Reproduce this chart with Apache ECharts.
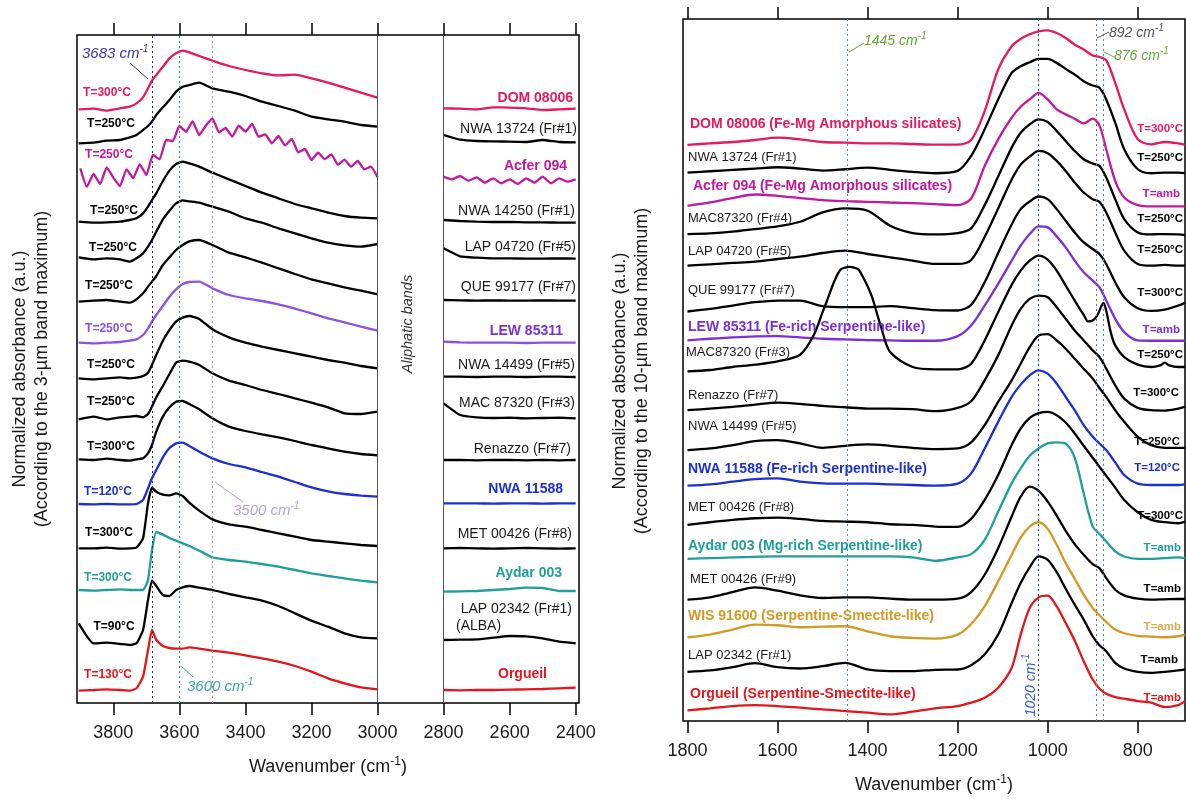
<!DOCTYPE html>
<html>
<head>
<meta charset="utf-8">
<title>IR spectra, 3-um and 10-um bands</title>
<script src="https://cdn.jsdelivr.net/npm/echarts@6/dist/echarts.min.js"></script>
<style>
  html, body { margin: 0; padding: 0; background: #fff; }
  #chart { width: 1186px; height: 799px; }
</style>
</head>
<body>
<div id="chart"></div>
<script>
// ---- wavenumber grids (cm-1); 2900 marks the removed aliphatic window ----
const wn3um = [3905, 3860, 3820, 3780, 3750, 3730, 3710, 3695, 3683, 3670, 3650, 3630, 3610, 3590, 3570, 3540, 3500,
  3450, 3400, 3350, 3300, 3250, 3200, 3150, 3100, 3050, 3000, 2900, 2800, 2750, 2700, 2650, 2600, 2550, 2500, 2450, 2400];
const wnAcfer3um = [3900, 3880, 3860, 3840, 3820, 3800, 3780, 3760, 3740, 3720, 3700, 3680, 3660, 3640, 3620, 3600,
  3580, 3560, 3540, 3520, 3500, 3480, 3460, 3440, 3420, 3400, 3380, 3360, 3340, 3320, 3300, 3280, 3260, 3240, 3220,
  3200, 3180, 3160, 3140, 3120, 3100, 3080, 3060, 3040, 3020, 3000, 2900, 2800, 2775, 2750, 2725, 2700, 2675, 2650,
  2625, 2600, 2575, 2550, 2525, 2500, 2475, 2450, 2425, 2400];
const wn10um = [1800, 1750, 1700, 1650, 1600, 1550, 1500, 1450, 1400, 1350, 1300, 1250, 1200, 1170, 1140, 1110, 1080,
  1060, 1040, 1020, 1000, 980, 960, 940, 920, 900, 885, 870, 850, 830, 800, 770, 740, 710, 695];
const wnMac3 = [1800, 1750, 1700, 1650, 1600, 1550, 1520, 1500, 1490, 1480, 1470, 1460, 1450, 1440, 1430, 1420, 1410,
  1400, 1390, 1380, 1370, 1350, 1300, 1250, 1200, 1170, 1140, 1110, 1080, 1060, 1040, 1020, 1000, 980, 960, 940, 920,
  910, 900, 890, 880, 876, 870, 860, 850, 830, 800, 770, 750, 740, 730, 710, 695];

const ticks3um = [3800, 3600, 3400, 3200, 3000, 2800, 2600, 2400];
const ticks10um = [1800, 1600, 1400, 1200, 1000, 800];
const guides3um = [3683, 3600, 3500];
const walls3um = [3000, 2800];
const guides10um = [1445, 1020, 892, 876];

// ---- 3-um panel (stacked, a.u.) ----
const dom08006_3um = [17.81, 17.83, 17.77, 17.84, 17.89, 17.99, 18.17, 18.44, 18.67, 18.84, 19.09, 19.34, 19.49, 19.57,
  19.52, 19.41, 19.27, 19.11, 18.99, 18.89, 18.83, 18.85, 18.74, 18.61, 18.46, 18.31, 18.16, null,
  17.84, 17.83, 17.81, 17.87, 17.86, 17.84, 17.79, 17.81, 17.83];
const nwa13724_3um = [16.79, 16.81, 16.87, 16.89, 16.97, 17.04, 17.19, 17.31, 17.44, 17.64, 17.87, 18.09, 18.34, 18.49,
  18.54, 18.61, 18.44, 18.34, 18.21, 18.04, 17.91, 17.77, 17.59, 17.51, 17.44, 17.34, 17.29, null,
  17.04, 16.90, 16.86, 16.85, 16.84, 16.83, 16.89, 16.83, 16.82];
const acfer094_3um = [16.04, 15.49, 15.87, 15.57, 16.07, 15.76, 15.51, 16.01, 15.75, 16.16, 15.84, 16.44, 16.31, 16.89,
  16.86, 17.31, 17.14, 17.45, 17.04, 17.32, 17.54, 17.12, 17.25, 16.99, 17.32, 17.14, 17.37, 16.99, 17.06, 16.79,
  17.01, 16.73, 16.92, 16.52, 16.62, 16.29, 16.51, 16.32, 16.46, 16.15, 16.30, 16.09, 16.26, 16.01, 16.09, 15.77, null,
  15.79, 15.71, 15.81, 15.67, 15.77, 15.61, 15.74, 15.59, 15.71, 15.57, 15.74, 15.61, 15.79, 15.59, 15.74, 15.64, 15.71];
const nwa14250_3um = [14.44, 14.41, 14.42, 14.44, 14.49, 14.54, 14.69, 14.89, 15.09, 15.29, 15.66, 15.97, 16.17, 16.24,
  16.19, 16.09, 15.91, 15.71, 15.51, 15.31, 15.14, 14.97, 14.84, 14.71, 14.61, 14.56, 14.54, null,
  14.49, 14.46, 14.44, 14.43, 14.43, 14.42, 14.42, 14.41, 14.41];
const lap04720_3um = [13.37, 13.31, 13.34, 13.31, 13.24, 13.34, 13.49, 13.69, 13.89, 14.14, 14.51, 14.77, 14.99, 15.08,
  15.05, 15.01, 14.89, 14.74, 14.54, 14.41, 14.24, 14.09, 13.94, 13.81, 13.73, 13.69, 13.77, null,
  13.64, 13.40, 13.36, 13.34, 13.34, 13.33, 13.33, 13.34, 13.33];
const que99177_3um = [12.04, 12.07, 12.09, 12.04, 12.01, 12.11, 12.29, 12.49, 12.64, 12.81, 13.14, 13.37, 13.59, 13.74,
  13.85, 13.89, 13.74, 13.51, 13.37, 13.21, 13.04, 12.87, 12.71, 12.59, 12.47, 12.37, 12.26, null,
  12.09, 12.08, 12.07, 12.08, 12.07, 12.07, 12.08, 12.07, 12.07];
const lew85311_3um = [10.81, 10.79, 10.81, 10.83, 10.87, 10.91, 11.04, 11.24, 11.44, 11.64, 11.91, 12.19, 12.41, 12.57,
  12.63, 12.64, 12.44, 12.24, 12.14, 12.06, 11.96, 11.83, 11.69, 11.54, 11.42, 11.29, 11.17, null,
  10.84, 10.82, 10.81, 10.81, 10.81, 10.80, 10.81, 10.81, 10.81];
const nwa14499_3um = [9.74, 9.71, 9.74, 9.77, 9.74, 9.76, 9.81, 9.91, 10.14, 10.44, 10.87, 11.19, 11.44, 11.56, 11.61,
  11.52, 11.21, 10.97, 10.81, 10.69, 10.59, 10.49, 10.39, 10.29, 10.21, 10.11, 10.04, null,
  9.79, 9.79, 9.78, 9.79, 9.79, 9.78, 9.79, 9.79, 9.78];
const mac87320_3um = [8.51, 8.59, 8.51, 8.57, 8.59, 8.61, 8.57, 8.67, 8.89, 9.17, 9.51, 9.87, 10.21, 10.27, 10.24,
  10.14, 9.89, 9.67, 9.54, 9.39, 9.27, 9.14, 9.01, 8.87, 8.69, 8.67, 8.74, null,
  8.99, 8.64, 8.57, 8.55, 8.56, 8.54, 8.55, 8.56, 8.54];
const renazzo_3um = [7.31, 7.29, 7.33, 7.29, 7.27, 7.31, 7.34, 7.49, 7.74, 8.14, 8.59, 8.87, 9.04, 9.06, 8.97, 8.81,
  8.54, 8.29, 8.16, 8.06, 7.97, 7.86, 7.74, 7.64, 7.54, 7.47, 7.43, null,
  7.29, 7.29, 7.28, 7.29, 7.29, 7.28, 7.29, 7.28, 7.29];
const nwa11588_3um = [5.97, 5.96, 5.97, 5.96, 5.96, 5.97, 6.09, 6.44, 6.74, 6.99, 7.37, 7.65, 7.79, 7.81, 7.71, 7.54,
  7.34, 7.17, 7.07, 6.93, 6.79, 6.63, 6.47, 6.35, 6.27, 6.22, 6.19, null,
  5.99, 5.99, 5.99, 5.98, 5.99, 5.99, 5.98, 5.99, 5.99];
const met00426_3um = [4.64, 4.64, 4.66, 4.63, 4.64, 4.66, 4.94, 5.99, 6.46, 6.34, 6.25, 6.23, 6.29, 6.21, 6.01, 5.77,
  5.51, 5.36, 5.29, 5.19, 5.09, 4.99, 4.89, 4.84, 4.79, 4.74, 4.71, null,
  4.64, 4.65, 4.64, 4.63, 4.64, 4.65, 4.64, 4.63, 4.64];
const aydar003_3um = [3.39, 3.37, 3.39, 3.41, 3.39, 3.39, 3.39, 3.69, 4.59, 5.13, 5.05, 4.95, 4.87, 4.79, 4.71, 4.57,
  4.37, 4.29, 4.24, 4.17, 4.09, 3.99, 3.89, 3.81, 3.74, 3.67, 3.62, null,
  3.34, 3.35, 3.36, 3.39, 3.42, 3.46, 3.45, 3.36, 3.36];
const lap02342_3um = [2.39, 1.79, 1.81, 1.77, 1.74, 1.79, 2.19, 3.09, 3.67, 3.51, 3.24, 3.21, 3.39, 3.47, 3.51, 3.46,
  3.39, 3.27, 3.17, 3.07, 2.91, 2.69, 2.47, 2.29, 2.09, 1.97, 1.94, null,
  1.89, 1.90, 1.91, 1.96, 2.01, 2.00, 1.94, 1.84, 1.79];
const orgueil_3um = [0.37, 0.39, 0.41, 0.39, 0.37, 0.44, 0.79, 1.59, 2.19, 1.89, 1.71, 1.65, 1.63, 1.63, 1.67, 1.63,
  1.57, 1.51, 1.43, 1.34, 1.24, 1.11, 0.94, 0.74, 0.59, 0.47, 0.41, null,
  0.39, 0.38, 0.39, 0.39, 0.40, 0.41, 0.42, 0.44, 0.46];

// ---- 10-um panel (stacked, a.u.) ----
const dom08006_10um = [17.33, 17.38, 17.42, 17.48, 17.55, 17.50, 17.42, 17.40, 17.38, 17.38, 17.36, 17.34, 17.34, 17.48,
  18.35, 19.60, 20.30, 20.52, 20.66, 20.75, 20.78, 20.70, 20.55, 20.35, 20.20, 20.02, 19.98, 19.88, 19.20, 18.40,
  17.50, 17.35, 17.42, 17.38, 17.34];
const nwa13724_10um = [16.50, 16.54, 16.58, 16.62, 16.66, 16.62, 16.56, 16.60, 16.65, 16.58, 16.52, 16.48, 16.55, 17.00,
  17.80, 18.70, 19.50, 19.70, 19.82, 19.92, 19.92, 19.80, 19.62, 19.45, 19.25, 19.12, 19.05, 18.70, 18.00, 17.20,
  16.60, 16.48, 16.50, 16.50, 16.48];
const acfer094_10um = [15.50, 15.60, 15.73, 15.84, 15.80, 15.73, 15.67, 15.64, 15.62, 15.60, 15.58, 15.55, 15.52, 15.72,
  16.70, 17.50, 18.15, 18.48, 18.70, 18.90, 18.70, 18.40, 18.25, 18.12, 17.98, 18.12, 17.92, 17.20, 16.25, 15.75,
  15.52, 15.48, 15.48, 15.48, 15.48];
const mac87320fr4_10um = [14.65, 14.67, 14.72, 14.80, 14.88, 15.02, 15.30, 15.42, 15.35, 14.90, 14.68, 14.64, 14.68,
  14.82, 15.52, 16.38, 17.25, 17.70, 17.95, 18.10, 18.02, 17.75, 17.45, 17.15, 16.90, 16.77, 16.70, 16.35, 15.70,
  15.10, 14.70, 14.64, 14.65, 14.64, 14.62];
const lap04720_10um = [13.70, 13.74, 13.78, 13.82, 13.90, 13.97, 14.08, 14.15, 14.05, 13.95, 13.85, 13.75, 13.75, 13.87,
  14.56, 15.42, 16.29, 16.74, 16.98, 17.15, 17.08, 16.85, 16.55, 16.20, 15.90, 15.70, 15.62, 15.30, 14.70, 14.15,
  13.75, 13.70, 13.72, 13.70, 13.70];
const que99177_10um = [12.32, 12.40, 12.50, 12.60, 12.65, 12.65, 12.48, 12.45, 12.45, 12.48, 12.42, 12.36, 12.35, 12.52,
  13.20, 14.08, 14.94, 15.40, 15.63, 15.78, 15.70, 15.40, 15.05, 14.70, 14.40, 14.20, 14.05, 13.75, 13.20, 12.75,
  12.42, 12.34, 12.38, 12.50, 12.58];
const lew85311_10um = [11.45, 11.50, 11.54, 11.57, 11.58, 11.54, 11.50, 11.48, 11.46, 11.45, 11.44, 11.44, 11.58, 11.90,
  12.50, 13.15, 13.85, 14.30, 14.65, 14.88, 14.85, 14.58, 14.25, 13.85, 13.50, 13.25, 13.05, 12.65, 12.10, 11.70,
  11.45, 11.44, 11.44, 11.44, 11.44];
const mac87320fr3_10um = [10.52, 10.56, 10.65, 10.72, 10.82, 11.02, 11.60, 12.30, 12.65, 13.02, 13.35, 13.58, 13.64,
  13.66, 13.64, 13.58, 13.35, 13.08, 12.75, 12.30, 11.85, 11.10, 10.65, 10.58, 10.58, 10.75, 11.45, 12.30, 13.12,
  13.55, 13.85, 14.00, 13.88, 13.55, 13.10, 12.65, 12.22, 12.02, 12.05, 12.20, 12.50, 12.58, 12.35, 11.70, 11.30,
  10.95, 10.72, 10.65, 10.70, 10.78, 10.70, 10.65, 10.65];
const renazzo_10um = [9.35, 9.40, 9.45, 9.52, 9.58, 9.54, 9.48, 9.44, 9.40, 9.40, 9.38, 9.32, 9.42, 9.62, 10.25, 11.00,
  11.90, 12.40, 12.70, 12.80, 12.75, 12.45, 12.10, 11.75, 11.45, 11.15, 10.95, 10.60, 10.10, 9.70, 9.42, 9.35, 9.34,
  9.40, 9.45];
const nwa14499_10um = [8.15, 8.20, 8.30, 8.42, 8.45, 8.35, 8.22, 8.28, 8.32, 8.28, 8.22, 8.18, 8.20, 8.38, 8.90, 9.60,
  10.25, 10.75, 11.25, 11.60, 11.64, 11.45, 11.20, 10.90, 10.60, 10.30, 10.02, 9.75, 9.35, 9.00, 8.55, 8.30, 8.22,
  8.22, 8.22];
const nwa11588_10um = [7.08, 7.12, 7.20, 7.28, 7.30, 7.20, 7.15, 7.14, 7.14, 7.12, 7.10, 7.08, 7.14, 7.45, 8.20, 9.00,
  9.75, 10.12, 10.40, 10.55, 10.45, 10.15, 9.75, 9.35, 8.90, 8.55, 8.35, 8.15, 7.78, 7.40, 7.14, 7.10, 7.10, 7.10, 7.12];
const met00426fr8_10um = [5.90, 5.98, 6.05, 6.10, 6.12, 6.08, 6.02, 6.00, 5.98, 5.92, 5.90, 5.85, 5.84, 6.08, 6.65, 7.40,
  8.30, 8.80, 9.12, 9.26, 9.30, 9.20, 8.98, 8.65, 8.28, 7.92, 7.65, 7.38, 7.02, 6.65, 6.28, 6.05, 5.98, 5.95, 6.00];
const aydar003_10um = [4.88, 4.90, 4.92, 4.94, 4.95, 4.95, 4.95, 4.95, 4.95, 4.95, 4.92, 4.82, 4.92, 5.02, 5.45, 6.30,
  7.15, 7.60, 7.98, 8.20, 8.35, 8.38, 8.34, 7.92, 6.85, 5.85, 5.63, 5.40, 5.10, 4.95, 4.88, 4.88, 4.90, 4.92, 4.90];
const met00426fr9_10um = [3.65, 3.72, 3.88, 4.02, 3.92, 3.78, 3.70, 3.72, 3.72, 3.68, 3.65, 3.65, 3.68, 3.88, 4.40, 5.20,
  6.15, 6.75, 7.05, 6.92, 6.60, 6.18, 5.72, 5.32, 5.00, 4.72, 4.60, 4.30, 3.95, 3.78, 3.68, 3.65, 3.66, 3.67, 3.67];
const wis91600_10um = [2.52, 2.60, 2.75, 2.90, 2.88, 2.82, 2.84, 2.85, 2.70, 2.55, 2.50, 2.48, 2.60, 2.92, 3.45, 4.20,
  5.00, 5.52, 5.85, 5.98, 5.78, 5.30, 4.75, 4.28, 3.80, 3.40, 3.18, 2.98, 2.75, 2.64, 2.56, 2.54, 2.52, 2.55, 2.60];
const lap02342_10um = [1.48, 1.52, 1.62, 1.74, 1.62, 1.58, 1.65, 1.75, 1.55, 1.50, 1.50, 1.54, 1.55, 1.68, 2.00, 2.60,
  3.55, 4.15, 4.62, 4.95, 4.85, 4.48, 3.98, 3.50, 3.05, 2.55, 2.28, 2.10, 1.75, 1.58, 1.48, 1.45, 1.48, 1.52, 1.55];
const orgueil_10um = [0.32, 0.38, 0.45, 0.48, 0.45, 0.40, 0.35, 0.30, 0.25, 0.20, 0.28, 0.38, 0.45, 0.55, 0.70, 1.00,
  1.60, 2.60, 3.40, 3.72, 3.77, 3.45, 2.95, 2.42, 1.80, 1.25, 0.98, 0.82, 0.72, 0.67, 0.60, 0.55, 0.42, 0.48, 0.60];

// ---- styling ----
const FONT = "'Liberation Sans', Arial, Helvetica, sans-serif";
const C = {
  black: '#000000', pink: '#e8185e', magenta: '#c2189c', purpleL: '#8c52e0', purple: '#7a30d8',
  blue: '#1d2fd2', teal: '#1f9f9a', gold: '#cf9b22', goldT: '#d6ad4c', red: '#e4161c'
};

const spectra3um = [
  [dom08006_3um, C.pink], [nwa13724_3um, C.black], [acfer094_3um, C.magenta, wnAcfer3um],
  [nwa14250_3um, C.black], [lap04720_3um, C.black], [que99177_3um, C.black], [lew85311_3um, C.purpleL],
  [nwa14499_3um, C.black], [mac87320_3um, C.black], [renazzo_3um, C.black], [nwa11588_3um, C.blue],
  [met00426_3um, C.black], [aydar003_3um, C.teal], [lap02342_3um, C.black], [orgueil_3um, C.red]
];
const spectra10um = [
  [dom08006_10um, C.pink], [nwa13724_10um, C.black], [acfer094_10um, C.magenta], [mac87320fr4_10um, C.black],
  [lap04720_10um, C.black], [que99177_10um, C.black], [lew85311_10um, C.purple], [mac87320fr3_10um, C.black, wnMac3],
  [renazzo_10um, C.black], [nwa14499_10um, C.black], [nwa11588_10um, C.blue], [met00426fr8_10um, C.black],
  [aydar003_10um, C.teal], [met00426fr9_10um, C.black], [wis91600_10um, C.gold], [lap02342_10um, C.black],
  [orgueil_10um, C.red]
];

function toPairs(wn, vals) {
  return wn.map(function (w, i) { return [w, vals[i]]; });
}

function guideLine(v, color, type) {
  return { xAxis: v, lineStyle: { color: color, type: type || [2, 3], width: 1 } };
}

function buildSeries(list, defaultWn, gridIdx, guides) {
  return list.map(function (s, i) {
    const item = {
      type: 'line', xAxisIndex: gridIdx * 2, yAxisIndex: gridIdx,
      data: toPairs(s[2] || defaultWn, s[0]),
      showSymbol: false, smooth: gridIdx === 0 ? 0.15 : 0.3, connectNulls: false,
      lineStyle: { color: s[1], width: 2.3 }, silent: true, z: 3
    };
    if (i === 0) {
      item.markLine = { symbol: ['none', 'none'], silent: true, label: { show: false }, data: guides };
    }
    return item;
  });
}

const supRich = function (color, size) {
  return { s: { fontSize: size, fontStyle: 'italic', fontFamily: FONT, fill: color, verticalAlign: 'bottom', padding: [0, 0, 9, 0] } };
};

function txt(x, y, text, color, size, opt) {
  opt = opt || {};
  const style = {
    text: text, fill: color, fontSize: size, fontFamily: FONT,
    fontWeight: opt.bold ? 'bold' : 'normal', fontStyle: opt.italic ? 'italic' : 'normal',
    align: opt.align || 'left', verticalAlign: 'middle'
  };
  if (opt.rich) style.rich = opt.rich;
  if (opt.lineHeight) style.lineHeight = opt.lineHeight;
  return { type: 'text', x: x, y: y, rotation: opt.rot || 0, silent: true, z: 100, style: style };
}

function leader(x1, y1, x2, y2, color) {
  return { type: 'line', silent: true, z: 100, shape: { x1: x1, y1: y1, x2: x2, y2: y2 }, style: { stroke: color, lineWidth: 1 } };
}

function xAxisDef(gridIdx, min, max, ticks, position) {
  const bottom = position === 'bottom';
  return {
    type: 'value', gridIndex: gridIdx, min: min, max: max, inverse: true, position: position,
    axisLine: { show: false, onZero: false },
    axisTick: { show: true, inside: false, length: 12, customValues: ticks, lineStyle: { color: '#000', width: 1.5 } },
    axisLabel: {
      show: bottom, customValues: ticks, fontSize: 18, color: '#1a1a1a', margin: 21, fontFamily: FONT,
      formatter: function (v) { return String(v); }
    },
    splitLine: { show: false },
    name: bottom ? 'Wavenumber (cm{s|-1})' : '',
    nameLocation: 'middle', nameGap: 53,
    nameTextStyle: {
      fontSize: 18, color: '#1a1a1a', fontFamily: FONT,
      rich: { s: { fontSize: 12, fontFamily: FONT, color: '#1a1a1a', verticalAlign: 'bottom', padding: [0, 0, 10, 0] } }
    }
  };
}

// ---- text labels ----
const T = 12;
const TR = 11.5;
const N = 14;
const graphics = [
  // y-axis titles
  txt(31, 369, 'Normalized absorbance (a.u.)\n(According to the 3-\u00b5m band maximum)', '#1a1a1a', 18,
    { align: 'center', rot: Math.PI / 2, lineHeight: 22 }),
  txt(631, 371, 'Normalized absorbance (a.u.)\n(According to the 10-\u00b5m band maximum)', '#1a1a1a', 18,
    { align: 'center', rot: Math.PI / 2, lineHeight: 22 }),

  // left panel: temperatures
  txt(107, 93, 'T=300\u00b0C', C.pink, T, { bold: true, align: 'center' }),
  txt(111, 124, 'T=250\u00b0C', C.black, T, { bold: true, align: 'center' }),
  txt(109, 155, 'T=250\u00b0C', C.magenta, T, { bold: true, align: 'center' }),
  txt(114, 211, 'T=250\u00b0C', C.black, T, { bold: true, align: 'center' }),
  txt(113, 248, 'T=250\u00b0C', C.black, T, { bold: true, align: 'center' }),
  txt(109, 286, 'T=250\u00b0C', C.black, T, { bold: true, align: 'center' }),
  txt(109, 329, 'T=250\u00b0C', C.purpleL, T, { bold: true, align: 'center' }),
  txt(111, 365, 'T=250\u00b0C', C.black, T, { bold: true, align: 'center' }),
  txt(111, 402, 'T=250\u00b0C', C.black, T, { bold: true, align: 'center' }),
  txt(111, 447, 'T=300\u00b0C', C.black, T, { bold: true, align: 'center' }),
  txt(108, 492, 'T=120\u00b0C', C.blue, T, { bold: true, align: 'center' }),
  txt(109, 533, 'T=300\u00b0C', C.black, T, { bold: true, align: 'center' }),
  txt(108, 578, 'T=300\u00b0C', C.teal, T, { bold: true, align: 'center' }),
  txt(114, 627, 'T=90\u00b0C', C.black, T, { bold: true, align: 'center' }),
  txt(108, 675, 'T=130\u00b0C', C.red, T, { bold: true, align: 'center' }),

  // left panel: sample names
  txt(573, 98, 'DOM 08006', C.pink, N, { bold: true, align: 'right' }),
  txt(577, 129, 'NWA 13724 (Fr#1)', '#1a1a1a', N, { align: 'right' }),
  txt(567, 166, 'Acfer 094', C.magenta, N, { bold: true, align: 'right' }),
  txt(575, 211, 'NWA 14250 (Fr#1)', '#1a1a1a', N, { align: 'right' }),
  txt(576, 247, 'LAP 04720 (Fr#5)', '#1a1a1a', N, { align: 'right' }),
  txt(576, 287, 'QUE 99177 (Fr#7)', '#1a1a1a', N, { align: 'right' }),
  txt(563, 331, 'LEW 85311', C.purple, N, { bold: true, align: 'right' }),
  txt(575, 365, 'NWA 14499 (Fr#5)', '#1a1a1a', N, { align: 'right' }),
  txt(575, 403, 'MAC 87320 (Fr#3)', '#1a1a1a', N, { align: 'right' }),
  txt(571, 449, 'Renazzo (Fr#7)', '#1a1a1a', N, { align: 'right' }),
  txt(563, 489, 'NWA 11588', C.blue, N, { bold: true, align: 'right' }),
  txt(572, 534, 'MET 00426 (Fr#8)', '#1a1a1a', N, { align: 'right' }),
  txt(562, 573, 'Aydar 003', C.teal, N, { bold: true, align: 'right' }),
  txt(572, 609, 'LAP 02342 (Fr#1)', '#1a1a1a', N, { align: 'right' }),
  txt(456, 626, '(ALBA)', '#1a1a1a', N),
  txt(547, 674, 'Orgueil', C.red, N, { bold: true, align: 'right' }),

  // left panel: band annotations
  txt(82, 54, '3683 cm{s|-1}', '#3535a8', 15, { italic: true, rich: supRich('#3535a8', 10) }),
  leader(130, 63, 148, 79, '#35356e'),
  txt(233, 511, '3500 cm{s|-1}', '#b8a2d8', 15, { italic: true, rich: supRich('#b8a2d8', 10) }),
  leader(215, 482, 243, 502, '#b8a2d8'),
  txt(187, 687, '3600 cm{s|-1}', '#3aa5a5', 15, { italic: true, rich: supRich('#3aa5a5', 10) }),
  leader(181, 666, 193, 677, '#3aa5a5'),
  txt(408, 324, 'Aliphatic bands', '#333333', 14.5, { italic: true, align: 'center', rot: Math.PI / 2 }),

  // right panel: sample names
  txt(690, 124, 'DOM 08006 (Fe-Mg Amorphous silicates)', C.pink, N, { bold: true }),
  txt(688, 157, 'NWA 13724 (Fr#1)', '#1a1a1a', 13),
  txt(693, 186, 'Acfer 094 (Fe-Mg Amorphous silicates)', C.magenta, N, { bold: true }),
  txt(688, 218, 'MAC87320 (Fr#4)', '#1a1a1a', 13),
  txt(688, 251, 'LAP 04720 (Fr#5)', '#1a1a1a', 13),
  txt(688, 290, 'QUE 99177 (Fr#7)', '#1a1a1a', 13),
  txt(688, 327, 'LEW 85311 (Fe-rich Serpentine-like)', C.purple, N, { bold: true }),
  txt(686, 352, 'MAC87320 (Fr#3)', '#1a1a1a', 13),
  txt(688, 395, 'Renazzo (Fr#7)', '#1a1a1a', 13),
  txt(688, 426, 'NWA 14499 (Fr#5)', '#1a1a1a', 13),
  txt(688, 469, 'NWA 11588 (Fe-rich Serpentine-like)', C.blue, N, { bold: true }),
  txt(688, 507, 'MET 00426 (Fr#8)', '#1a1a1a', 13),
  txt(688, 546, 'Aydar 003 (Mg-rich Serpentine-like)', C.teal, N, { bold: true }),
  txt(690, 579, 'MET 00426 (Fr#9)', '#1a1a1a', 13),
  txt(688, 616, 'WIS 91600 (Serpentine-Smectite-like)', C.gold, N, { bold: true }),
  txt(688, 655, 'LAP 02342 (Fr#1)', '#1a1a1a', 13),
  txt(690, 694, 'Orgueil (Serpentine-Smectite-like)', C.red, N, { bold: true }),

  // right panel: temperatures
  txt(1183, 129, 'T=300\u00b0C', C.pink, TR, { bold: true, align: 'right' }),
  txt(1183, 158, 'T=250\u00b0C', C.black, TR, { bold: true, align: 'right' }),
  txt(1180, 194, 'T=amb', C.magenta, TR, { bold: true, align: 'right' }),
  txt(1183, 219, 'T=250\u00b0C', C.black, TR, { bold: true, align: 'right' }),
  txt(1183, 250, 'T=250\u00b0C', C.black, TR, { bold: true, align: 'right' }),
  txt(1183, 293, 'T=300\u00b0C', C.black, TR, { bold: true, align: 'right' }),
  txt(1180, 330, 'T=amb', C.purple, TR, { bold: true, align: 'right' }),
  txt(1183, 355, 'T=250\u00b0C', C.black, TR, { bold: true, align: 'right' }),
  txt(1179, 393, 'T=300\u00b0C', C.black, TR, { bold: true, align: 'right' }),
  txt(1180, 442, 'T=250\u00b0C', C.black, TR, { bold: true, align: 'right' }),
  txt(1180, 468, 'T=120\u00b0C', C.blue, TR, { bold: true, align: 'right' }),
  txt(1183, 516, 'T=300\u00b0C', C.black, TR, { bold: true, align: 'right' }),
  txt(1181, 548, 'T=amb', C.teal, TR, { bold: true, align: 'right' }),
  txt(1181, 589, 'T=amb', C.black, TR, { bold: true, align: 'right' }),
  txt(1181, 627, 'T=amb', C.goldT, TR, { bold: true, align: 'right' }),
  txt(1178, 660, 'T=amb', C.black, TR, { bold: true, align: 'right' }),
  txt(1181, 698, 'T=amb', C.red, TR, { bold: true, align: 'right' }),

  // right panel: band annotations
  txt(864, 41, '1445 cm{s|-1}', '#6aa536', 14, { italic: true, rich: supRich('#6aa536', 10) }),
  leader(849, 52, 864, 43, '#6aa536'),
  txt(1109, 33, '892 cm{s|-1}', '#555555', 14, { italic: true, rich: supRich('#555555', 10) }),
  leader(1097, 38, 1109, 32, '#555555'),
  txt(1114, 56, '876 cm{s|-1}', '#6aa536', 14, { italic: true, rich: supRich('#6aa536', 10) }),
  leader(1104, 52, 1114, 57, '#6aa536'),
  txt(1031, 685, '1020 cm{s|-1}', '#3b5bc8', 14, { italic: true, align: 'center', rot: Math.PI / 2, rich: supRich('#3b5bc8', 10) })
];

const series = []
  .concat(buildSeries(spectra3um, wn3um, 0, [
    guideLine(guides3um[0], '#2b2f6e'), guideLine(guides3um[1], '#2a8c8c'), guideLine(guides3um[2], '#9a9aa8'),
    guideLine(walls3um[0], '#555555', 'solid'), guideLine(walls3um[1], '#555555', 'solid')
  ]))
  .concat(buildSeries(spectra10um, wn10um, 1, [
    guideLine(guides10um[0], '#3a9a9a'), guideLine(guides10um[1], '#2a4a8a'),
    guideLine(guides10um[2], '#777777'), guideLine(guides10um[3], '#3a9a9a')
  ]));

const chart = echarts.init(document.getElementById('chart'), null, { renderer: 'canvas' });
chart.setOption({
  animation: false,
  backgroundColor: '#ffffff',
  textStyle: { fontFamily: FONT },
  grid: [
    { left: 77, top: 35, width: 502, height: 668, show: true, borderColor: '#000', borderWidth: 1.5, backgroundColor: 'transparent' },
    { left: 683, top: 19, width: 502, height: 704, show: true, borderColor: '#000', borderWidth: 1.5, backgroundColor: 'transparent' }
  ],
  xAxis: [
    xAxisDef(0, 2390, 3910, ticks3um, 'bottom'),
    xAxisDef(0, 2390, 3910, ticks3um, 'top'),
    xAxisDef(1, 695, 1810, ticks10um, 'bottom'),
    xAxisDef(1, 695, 1810, ticks10um, 'top')
  ],
  yAxis: [
    { type: 'value', gridIndex: 0, min: 0, max: 20.04, show: false },
    { type: 'value', gridIndex: 1, min: 0, max: 21.12, show: false }
  ],
  series: series,
  graphic: graphics
});
</script>
</body>
</html>
